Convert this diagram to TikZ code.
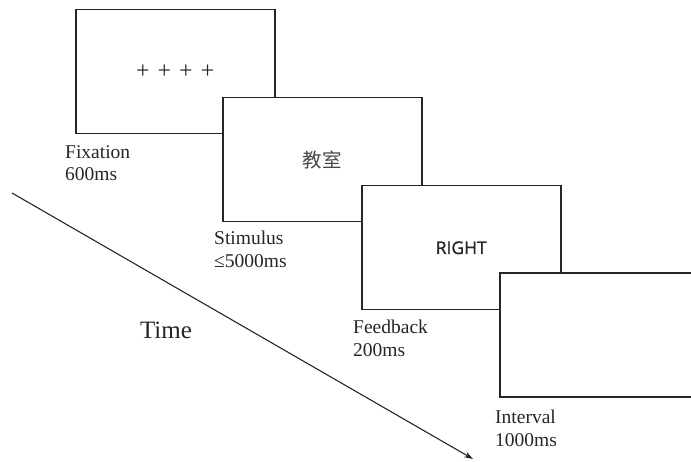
\documentclass[tikz,border=0pt]{standalone}
\usepackage{fontspec}
\usetikzlibrary{arrows.meta}
\setmainfont{Liberation Serif}
\newfontfamily\cjkfont{Noto Sans CJK SC}
\newfontfamily\rightfont[FakeBold=1.2]{Open Sans}
\definecolor{ink}{HTML}{262626}
\tikzset{
  screen/.style={draw=ink, line width=1.5pt, fill=white, minimum width=199pt, minimum height=124pt, inner sep=0pt, anchor=north west},
  lbl/.style={anchor=north west, inner sep=0pt, align=left, text=ink, font=\fontsize{19.5}{22.5}\selectfont},
  timeline/.style={draw=ink, line width=1.1pt, -{Stealth[length=9pt,width=6pt]}}
}
\begin{document}
\begin{tikzpicture}[x=1pt,y=-1pt]
\useasboundingbox (0,0) rectangle (691,462);
% screens
\node[screen] (fix) at (75,9) {};
\node[text=ink, font=\fontsize{24}{24}\selectfont] (fixtxt) at (fix.center) {+\,\,+\,\,+\,\,+};
\node[screen] (stim) at (222,97) {};
\node[text=ink!85, font=\cjkfont\fontsize{19.5}{19.5}\selectfont] (stimtxt) at (stim.center) {教室};
\node[screen] (fb) at (361,185) {};
\node[text=ink, font=\rightfont\fontsize{17.5}{17.5}\selectfont] (fbtxt) at (fb.center) {RIGHT};
\path[fill=white, draw=ink, line width=1.5pt] (692,273) -- (500,273) -- (500,397) -- (692,397);
% labels
\node[lbl] (l1) at (65,145) {Fixation\\600ms};
\node[lbl] (l2) at (214,231) {Stimulus\\≤5000ms};
\node[lbl] (l3) at (353,320) {Feedback\\200ms};
\node[lbl] (l4) at (495,410) {Interval\\1000ms};
\node[text=ink, font=\fontsize{25}{25}\selectfont] (time) at (166,330) {Time};
% time arrow
\coordinate (ts) at (12,193);
\coordinate (te) at (473,459);
\draw[timeline] (ts) -- (te);
\end{tikzpicture}
\end{document}
